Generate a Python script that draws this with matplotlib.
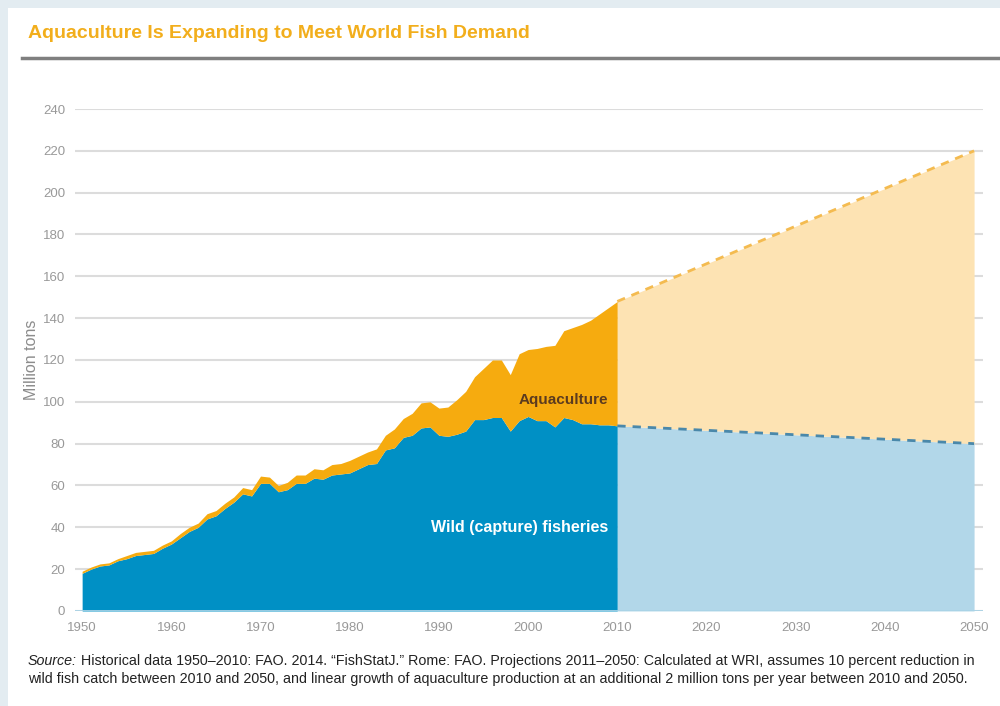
import matplotlib.pyplot as plt
from matplotlib.patches import Rectangle
import numpy as np

plt.rcParams['font.family'] = ['Liberation Sans', 'DejaVu Sans']

# Historical production, million tons (1950-2010)
years = np.arange(1950, 2011)
wild = [18, 20, 21.5, 22, 24, 25, 26.5, 27, 27.5, 30,
        32, 35, 38, 40, 44, 45.5, 49, 52, 56, 55,
        61, 61, 57, 58, 61, 61, 63.5, 63, 65, 65.5,
        66, 68, 70, 70.5, 77, 78, 83, 84, 87.5, 88,
        84, 83.5, 84.5, 86, 91.5, 91.5, 92.5, 92.5, 86, 91,
        93, 91, 91, 88, 92.5, 91.5, 89.5, 89.5, 89, 89,
        88.5]
total = [19, 21, 22.5, 23, 25, 26.5, 28, 28.5, 29, 31.5,
         33.5, 37, 40, 42, 46.5, 48, 51.5, 54.5, 59, 58,
         64.5, 64, 60, 61.5, 65, 65, 68, 67.5, 70, 70.5,
         72, 74, 76, 77.5, 84, 87, 92, 94.5, 99.5, 100,
         97, 97.5, 101, 105, 112, 116, 120, 120, 113, 123,
         125, 125.5, 126.5, 127, 134, 135.5, 137, 139, 142, 145,
         148]

# Projections 2010-2050 (straight lines)
proj_years = [2010, 2050]
proj_wild = [88.5, 80]
proj_total = [148, 220]

blue = '#0090c5'
orange = '#f6ab0f'
light_blue = '#b2d7e9'
light_orange = '#fde3b3'

fig = plt.figure(figsize=(10, 7.06), dpi=100, facecolor='#e3ecf1')
fig.add_artist(Rectangle((0.008, 0), 0.992, 0.989, transform=fig.transFigure,
                         facecolor='white', edgecolor='none', zorder=-10))

ax = fig.add_axes([0.075, 0.1346, 0.908, 0.711])
ax.set_facecolor('none')
ax.set_zorder(2)

ax.fill_between(years, 0, wild, color=blue, lw=0, zorder=3)
ax.fill_between(years, wild, total, color=orange, lw=0, zorder=3)
ax.fill_between(proj_years, 0, proj_wild, color=light_blue, lw=0, zorder=3)
ax.fill_between(proj_years, proj_wild, proj_total, color=light_orange, lw=0, zorder=3)
ax.plot(proj_years, proj_total, color='#f4bb50', lw=2, ls=(0, (3, 2.5)), zorder=4)
ax.plot(proj_years, proj_wild, color='#4a88aa', lw=2, ls=(0, (3, 2.5)), zorder=4)

ax.set_xlim(1949.2, 2051)
ax.set_ylim(0, 240)
ax.set_yticks(np.arange(0, 241, 20))
ax.set_xticks(np.arange(1950, 2051, 10))
ax.grid(axis='y', color='#dcdcdc', lw=1.5, zorder=1)
ax.axhline(0, color='#a9d3e6', lw=2, zorder=5)
for s in ax.spines.values():
    s.set_visible(False)
ax.tick_params(axis='both', length=0, labelsize=9.5, colors='#999999')
ax.tick_params(axis='y', pad=7)
ax.tick_params(axis='x', pad=8)
ax.set_ylabel('Million tons', fontsize=11.5, color='#8c8c8c', labelpad=3)

ax.text(2009, 101, 'Aquaculture', ha='right', va='center', fontsize=11,
        fontweight='bold', color='#5b3b1f', zorder=6)
ax.text(2009, 40, 'Wild (capture) fisheries', ha='right', va='center', fontsize=11.5,
        fontweight='bold', color='white', zorder=6)

fig.text(0.028, 0.953, 'Aquaculture Is Expanding to Meet World Fish Demand',
         fontsize=14, fontweight='bold', color='#f2ae1c', va='center')
fig.add_artist(plt.Line2D([0.022, 1.0], [0.918, 0.918], transform=fig.transFigure,
                          color='#7f7f7f', lw=2.5))

# footer: italic "Source:" followed by the rest of the note
src = fig.text(0.028, 0.058, 'Source:', fontsize=10.3, style='italic', color='#222222',
               va='baseline')
fig.add_artist(plt.Annotation(
    ' Historical data 1950\u20132010: FAO. 2014. \u201cFishStatJ.\u201d Rome: FAO. '
    'Projections 2011\u20132050: Calculated at WRI, assumes 10 percent reduction in',
    xy=(1, 0), xycoords=src, va='bottom', ha='left', fontsize=10.3, color='#222222'))
fig.text(0.028, 0.032,
         'wild fish catch between 2010 and 2050, and linear growth of aquaculture production '
         'at an additional 2 million tons per year between 2010 and 2050.',
         fontsize=10.3, color='#222222', va='baseline')

plt.savefig('out.png', dpi=100, facecolor=fig.get_facecolor())
